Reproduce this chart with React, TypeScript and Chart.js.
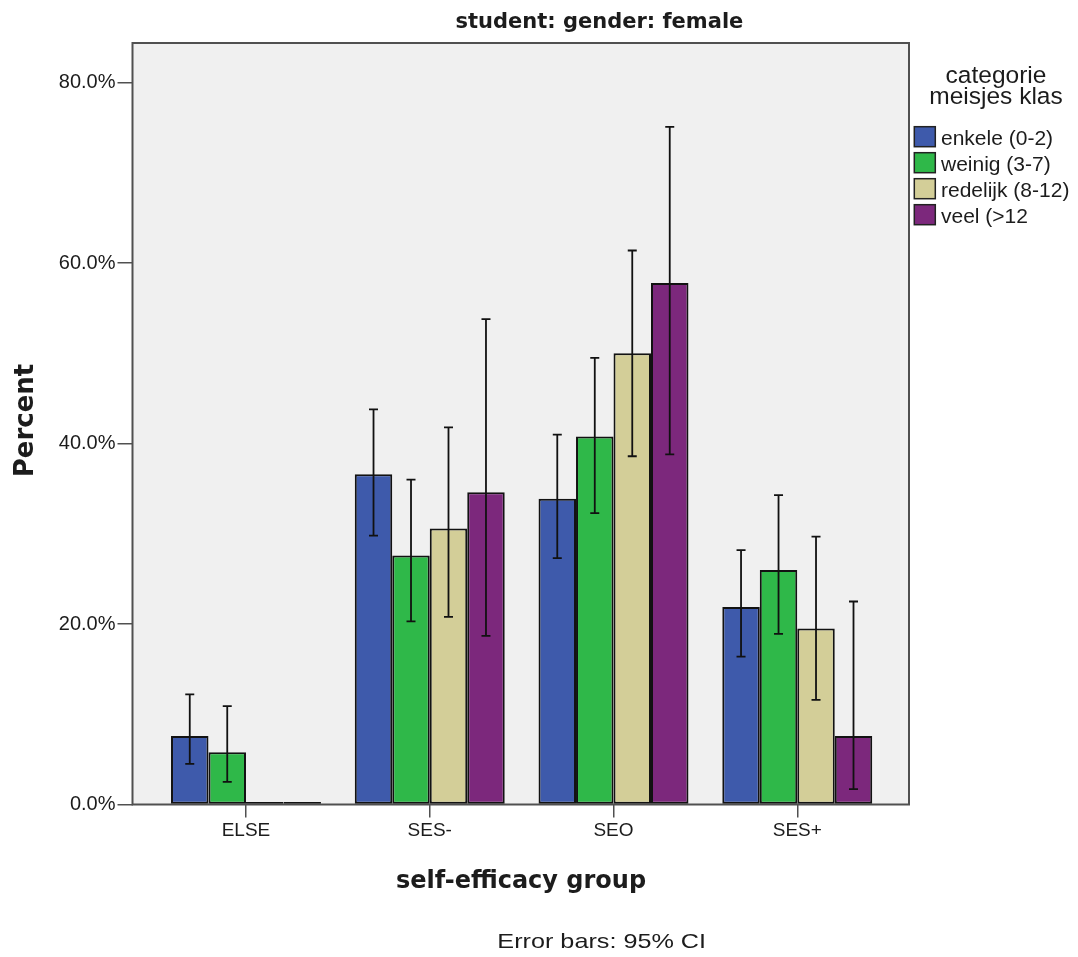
import React, { useEffect, useRef } from 'react';
import { Chart, registerables } from 'chart.js';

Chart.register(...registerables);

// ---- data ----
const categories = ['ELSE', 'SES-', 'SEO', 'SES+'];
const seriesNames = ['enkele (0-2)', 'weinig (3-7)', 'redelijk (8-12)', 'veel (>12'];
const seriesColors = ['#3E5AAB', '#2FB849', '#D3CE98', '#7C287C'];

const enkele = [7.6, 36.6, 33.9, 21.9];
const enkeleLow = [4.5, 29.8, 27.3, 16.4];
const enkeleHigh = [12.2, 43.8, 41.0, 28.2];

const weinig = [5.8, 27.6, 40.8, 26.0];
const weinigLow = [2.5, 20.3, 32.3, 18.9];
const weinigHigh = [10.9, 36.0, 49.5, 34.3];

const redelijk = [0, 30.6, 50.0, 19.5];
const redelijkLow = [null, 20.8, 38.6, 11.6];
const redelijkHigh = [null, 41.8, 61.4, 29.7];

const veel = [0, 34.6, 57.8, 7.6];
const veelLow = [null, 18.7, 38.8, 1.7];
const veelHigh = [null, 53.8, 75.1, 22.5];

const yTicks = [0, 20, 40, 60, 80];
const yMax = 84.4;

const titleText = 'student: gender: female';
const xTitle = 'self-efficacy group';
const yTitle = 'Percent';
const legendTitle = ['categorie', 'meisjes klas'];
const footerText = 'Error bars: 95% CI';

const seriesValues = [enkele, weinig, redelijk, veel];
const seriesLow = [enkeleLow, weinigLow, redelijkLow, veelLow];
const seriesHigh = [enkeleHigh, weinigHigh, redelijkHigh, veelHigh];

const TEXT = '#1c1c1c';
const FRAME = '#505050';

function drawText(
  ctx: CanvasRenderingContext2D,
  s: string,
  x: number,
  y: number,
  font: string,
  align: CanvasTextAlign = 'center',
  sx = 1,
  rot = 0
) {
  ctx.save();
  ctx.translate(x, y);
  if (rot) ctx.rotate(rot);
  ctx.scale(sx, 1);
  ctx.font = font;
  ctx.textAlign = align;
  ctx.textBaseline = 'alphabetic';
  ctx.fillStyle = TEXT;
  ctx.fillText(s, 0, 0);
  ctx.restore();
}

const decorPlugin = {
  id: 'decor',
  beforeDraw(chart: any) {
    const { ctx, chartArea: a } = chart;
    ctx.save();
    ctx.fillStyle = '#ffffff';
    ctx.fillRect(0, 0, chart.width, chart.height);
    ctx.fillStyle = '#F0F0F0';
    ctx.fillRect(a.left, a.top, a.right - a.left, a.bottom - a.top);
    ctx.restore();
  },
  beforeDatasetsDraw(chart: any) {
    const { ctx, chartArea: a } = chart;
    ctx.save();
    ctx.strokeStyle = FRAME;
    ctx.lineWidth = 2;
    ctx.strokeRect(a.left, a.top, a.right - a.left, a.bottom - a.top);
    ctx.restore();
  },
  afterDatasetsDraw(chart: any) {
    const { ctx } = chart;
    const yScale = chart.scales.y;
    ctx.save();
    ctx.strokeStyle = '#111';
    ctx.lineWidth = 1.8;
    seriesValues.forEach((_, i) => {
      const meta = chart.getDatasetMeta(i);
      meta.data.forEach((el: any, j: number) => {
        const lo = seriesLow[i][j];
        const hi = seriesHigh[i][j];
        if (lo == null || hi == null) return;
        const x = el.x;
        const yl = yScale.getPixelForValue(lo);
        const yh = yScale.getPixelForValue(hi);
        ctx.beginPath();
        ctx.moveTo(x, yl);
        ctx.lineTo(x, yh);
        ctx.moveTo(x - 4.5, yl);
        ctx.lineTo(x + 4.5, yl);
        ctx.moveTo(x - 4.5, yh);
        ctx.lineTo(x + 4.5, yh);
        ctx.stroke();
      });
    });
    ctx.restore();
  },
  afterDraw(chart: any) {
    const { ctx } = chart;
    // title
    drawText(ctx, titleText, 599.4, 28.3, 'bold 21px "DejaVu Sans"');
    // axis titles
    drawText(ctx, xTitle, 521, 887.7, 'bold 24px "DejaVu Sans"');
    drawText(ctx, yTitle, 33, 420.5, 'bold 26px "DejaVu Sans"', 'center', 1, -Math.PI / 2);
    // footer
    drawText(ctx, footerText, 601.7, 948, '21px "Liberation Sans"', 'center', 1.2);
    // legend
    drawText(ctx, legendTitle[0], 996, 83.3, '24.5px "Liberation Sans"');
    drawText(ctx, legendTitle[1], 996, 104.3, '24.5px "Liberation Sans"');
    seriesNames.forEach((name, i) => {
      const top = 126.7 + i * 26;
      ctx.save();
      ctx.fillStyle = seriesColors[i];
      ctx.fillRect(914.3, top, 21, 20);
      ctx.strokeStyle = '#222';
      ctx.lineWidth = 1.5;
      ctx.strokeRect(914.3, top, 21, 20);
      ctx.restore();
      drawText(ctx, name, 941, top + 18.3, '21px "Liberation Sans"', 'left');
    });
  },
};

export default function App() {
  const canvasRef = useRef<HTMLCanvasElement | null>(null);

  useEffect(() => {
    const canvas = canvasRef.current;
    if (!canvas) return;
    const datasets = seriesNames.map((name, i) => ({
      label: name,
      data: seriesValues[i].map((v, j) => ({ x: j, y: v })),
      backgroundColor: seriesColors[i],
      borderColor: '#121212',
      borderWidth: 2,
      borderSkipped: false,
      minBarLength: 2.5,
      categoryPercentage: 0.816,
      barPercentage: 1,
    }));

    const chart = new Chart(canvas, {
      type: 'bar',
      data: { datasets },
      options: {
        animation: false,
        responsive: false,
        maintainAspectRatio: false,
        devicePixelRatio: 1,
        layout: { padding: { left: 0, top: 43, right: 169, bottom: 102.5 } },
        plugins: {
          legend: { display: false },
          tooltip: { enabled: false },
          title: { display: false },
        },
        scales: {
          x: {
            type: 'linear',
            min: -0.6176,
            max: 3.608,
            offset: false,
            afterBuildTicks: (s: any) => {
              s.ticks = categories.map((_, i) => ({ value: i }));
            },
            afterFit: (s: any) => {
              s.height = 50;
            },
            ticks: {
              callback: (v: any) => categories[Math.round(Number(v))] ?? '',
              font: { family: 'Liberation Sans', size: 19 },
              color: TEXT,
              padding: 2,
              autoSkip: false,
              maxRotation: 0,
            },
            grid: {
              offset: false,
              drawOnChartArea: false,
              drawTicks: true,
              tickLength: 13,
              color: FRAME,
              lineWidth: 1.5,
            },
            border: { display: false },
          },
          y: {
            type: 'linear',
            min: 0,
            max: yMax,
            afterBuildTicks: (s: any) => {
              s.ticks = yTicks.map((v) => ({ value: v }));
            },
            afterFit: (s: any) => {
              s.width = 132.5;
            },
            ticks: {
              callback: (v: any) => Number(v).toFixed(1) + '%',
              font: { family: 'Liberation Sans', size: 20 },
              color: TEXT,
              padding: 2,
              autoSkip: false,
            },
            grid: {
              drawOnChartArea: false,
              drawTicks: true,
              tickLength: 15,
              color: FRAME,
              lineWidth: 1.5,
            },
            border: { display: false },
          },
        },
      } as any,
      plugins: [decorPlugin],
    });

    return () => {
      chart.destroy();
    };
  }, []);

  return (
    <div style={{ position: 'fixed', left: 0, top: 0, width: 1078, height: 957, background: '#fff' }}>
      <canvas ref={canvasRef} width={1078} height={957} style={{ display: 'block', width: 1078, height: 957 }} />
    </div>
  );
}
